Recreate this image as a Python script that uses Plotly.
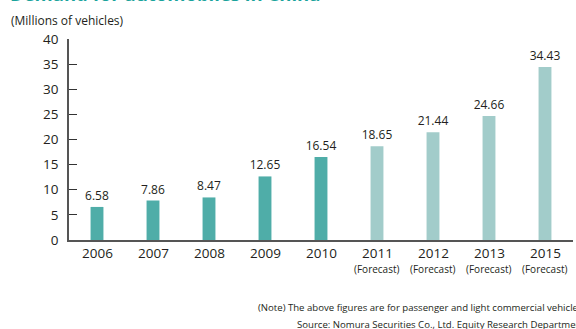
import plotly.graph_objects as go

years = ["2006", "2007", "2008", "2009", "2010", "2011", "2012", "2013", "2015"]
sublabels = ["", "", "", "", "", "(Forecast)", "(Forecast)", "(Forecast)", "(Forecast)"]
values = [6.58, 7.86, 8.47, 12.65, 16.54, 18.65, 21.44, 24.66, 34.43]
value_labels = ["6.58", "7.86", "8.47", "12.65", "16.54", "18.65", "21.44", "24.66", "34.43"]
forecast = [False, False, False, False, False, True, True, True, True]
y_ticks = [0, 5, 10, 15, 20, 25, 30, 35, 40]

ACTUAL = "#4FADA8"
FCAST = "#A2CCCA"
FONT = "Open Sans"
TXT = "#231F20"

W, H = 576, 329
ml, mr, mt, mb = 69, 3, 39, 89
ph = H - mt - mb
pw = W - ml - mr


def px_x(p):
    return (p - ml) / pw


def px_y(p):
    return 1 - (p - mt) / ph


fig = go.Figure()
fig.add_trace(go.Bar(
    x=years, y=values,
    marker=dict(color=[FCAST if f else ACTUAL for f in forecast], line=dict(width=0)),
    width=0.23,
    text=value_labels, textposition="outside", constraintext="none",
    textfont=dict(family=FONT, size=12, color=TXT),
    cliponaxis=False,
    hoverinfo="skip",
))

# x-axis category labels with forecast sublabels
for i, (yr, sub) in enumerate(zip(years, sublabels)):
    fig.add_annotation(x=i, xref="x", y=0, yref="y", yshift=-2,
                       text=yr, showarrow=False, yanchor="top",
                       font=dict(family=FONT, size=13.5, color=TXT))
    if sub:
        fig.add_annotation(x=i, xref="x", y=0, yref="y", yshift=-20,
                           text=sub, showarrow=False, yanchor="top",
                           font=dict(family=FONT, size=10, color=TXT))

# Unit label
fig.add_annotation(x=px_x(9), xref="paper", y=px_y(10), yref="paper",
                   text="(Millions of vehicles)", showarrow=False,
                   xanchor="left", yanchor="top",
                   font=dict(family=FONT, size=12, color=TXT))
# clipped title at top
fig.add_annotation(x=px_x(8), xref="paper", y=px_y(8), yref="paper",
                   text="<b>Demand for automobiles in China</b>", showarrow=False,
                   xanchor="left", yanchor="bottom",
                   font=dict(family=FONT, size=18.5, color="#1AA39C"))
# notes
fig.add_annotation(x=px_x(587), xref="paper", y=px_y(307), yref="paper",
                   text="(Note) The above figures are for passenger and light commercial vehicles.",
                   showarrow=False, xanchor="right", yanchor="middle",
                   font=dict(family=FONT, size=9.6, color=TXT))
fig.add_annotation(x=px_x(587), xref="paper", y=px_y(324), yref="paper",
                   text="Source: Nomura Securities Co., Ltd. Equity Research Department",
                   showarrow=False, xanchor="right", yanchor="middle",
                   font=dict(family=FONT, size=9.6, color=TXT))

fig.update_layout(
    width=W, height=H,
    margin=dict(l=ml, r=mr, t=mt, b=mb),
    paper_bgcolor="white", plot_bgcolor="white",
    showlegend=False,
    xaxis=dict(type="category", range=[-0.5, 8.5], showticklabels=False, ticks="",
               showline=True, linecolor="#555555", linewidth=1.5, showgrid=False,
               zeroline=False, fixedrange=True),
    yaxis=dict(range=[0, 40], tickvals=y_ticks, ticks="inside", ticklen=8,
               tickcolor="#333333", tickwidth=1.2,
               showline=True, linecolor="#555555", linewidth=1.5, showgrid=False,
               zeroline=False, tickfont=dict(family=FONT, size=13.5, color=TXT),
               ticklabelstandoff=6),
)

fig.write_html("out.html")
